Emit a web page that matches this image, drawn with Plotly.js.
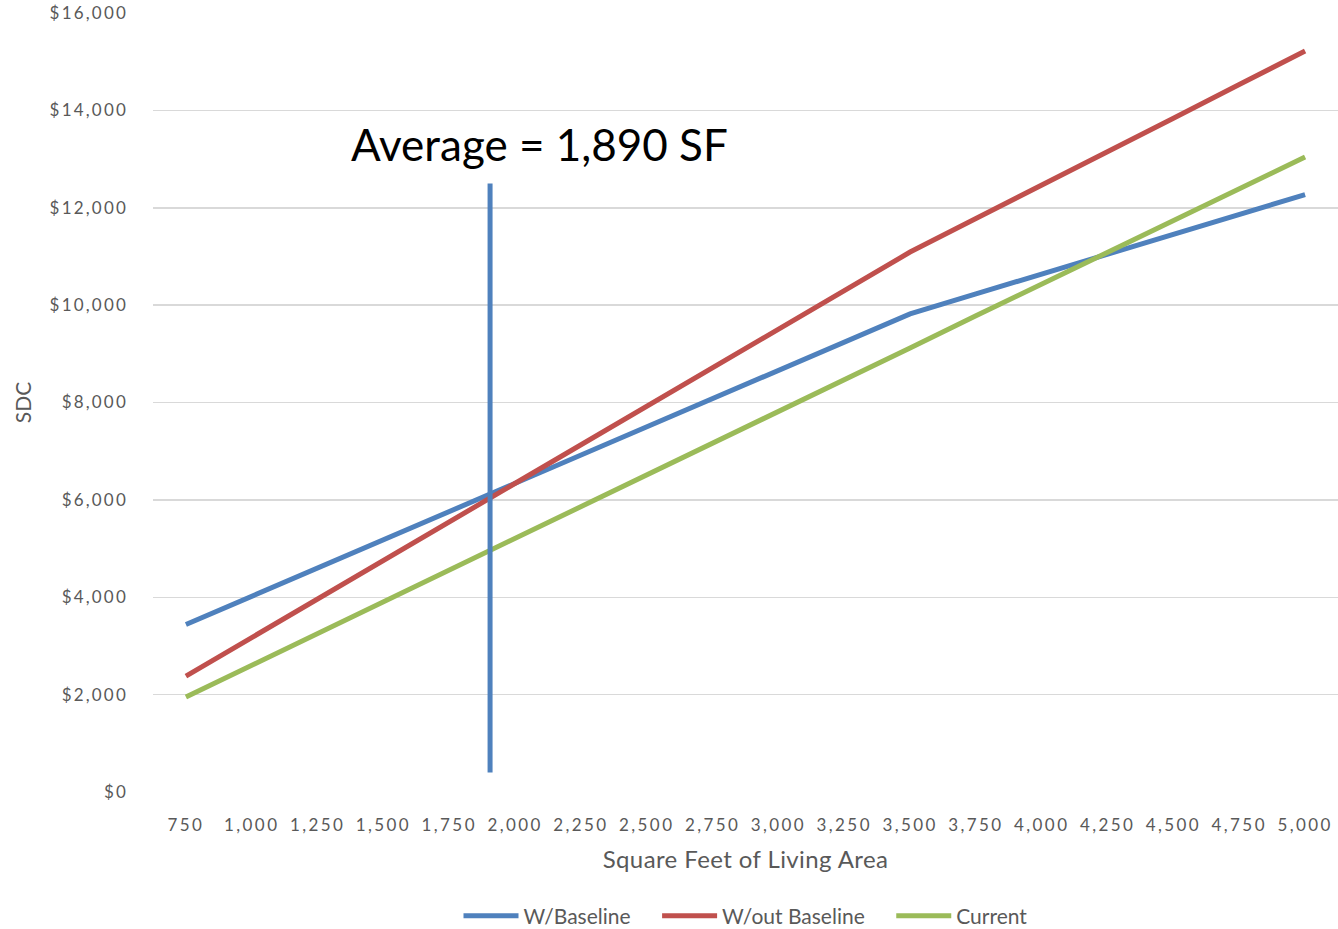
<!DOCTYPE html>
<html>
<head>
<meta charset="utf-8">
<script src="https://cdn.plot.ly/plotly-3.0.1.min.js"></script>
<style>
  html, body { margin: 0; padding: 0; background: #fff; }
  #chart { width: 1338px; height: 929px; }
  .xtick text { letter-spacing: 2.4px; }
  .ytick text { letter-spacing: 2.2px; }
  .g-xtitle text { letter-spacing: 0.4px; }
</style>
</head>
<body>
<div id="chart"></div>
<script>
// Square feet of living area (x categories)
const sqft = [750, 1000, 1250, 1500, 1750, 2000, 2250, 2500, 2750, 3000, 3250, 3500, 3750, 4000, 4250, 4500, 4750, 5000];
const sqftLabels = ["750", "1,000", "1,250", "1,500", "1,750", "2,000", "2,250", "2,500", "2,750", "3,000", "3,250", "3,500", "3,750", "4,000", "4,250", "4,500", "4,750", "5,000"];

// SDC values
const wBaseline = [3440, 4020, 4600, 5180, 5760, 6340, 6920, 7500, 8080, 8660, 9240, 9820, 10230, 10640, 11050, 11460, 11860, 12270];
const woutBaseline = [2380, 3170, 3960, 4750, 5540, 6340, 7130, 7920, 8710, 9500, 10300, 11090, 11780, 12460, 13150, 13840, 14530, 15220];
const current = [1950, 2600, 3250, 3900, 4560, 5210, 5860, 6510, 7170, 7820, 8470, 9120, 9780, 10430, 11080, 11740, 12390, 13040];

// Average marker line
const avgLabel = "Average = 1,890 SF";
const avgLineX = [1905, 1905];
const avgLineY = [400, 12500];

const yTicks = [0, 2000, 4000, 6000, 8000, 10000, 12000, 14000, 16000];
const yTickLabels = ["$0", "$2,000", "$4,000", "$6,000", "$8,000", "$10,000", "$12,000", "$14,000", "$16,000"];

const seriesNames = ["W/Baseline", "W/out Baseline", "Current"];

const FONT = "Lato, 'Open Sans', sans-serif";
const GREY = "#595959";
const PAD = "\u00A0\u00A0\u00A0\u00A0";

const traces = [
  { x: sqft, y: wBaseline, name: seriesNames[0] + PAD, type: "scatter", mode: "lines",
    line: { color: "#4F81BD", width: 5 } },
  { x: sqft, y: woutBaseline, name: seriesNames[1] + PAD, type: "scatter", mode: "lines",
    line: { color: "#C0504D", width: 5 } },
  { x: sqft, y: current, name: seriesNames[2], type: "scatter", mode: "lines",
    line: { color: "#9BBB59", width: 5 } },
  { x: avgLineX, y: avgLineY, type: "scatter", mode: "lines", showlegend: false,
    hoverinfo: "skip", line: { color: "#4F81BD", width: 5 } }
];

const layout = {
  width: 1338, height: 929,
  margin: { l: 153, r: 0, t: 13, b: 137, autoexpand: false },
  paper_bgcolor: "#fff", plot_bgcolor: "#fff",
  font: { family: FONT, color: GREY },
  showlegend: true,
  legend: {
    orientation: "h", x: 0.5, xanchor: "center",
    yref: "container", y: 0.014, yanchor: "middle",
    font: { family: FONT, size: 21, color: GREY },
    itemwidth: 55, traceorder: "normal"
  },
  xaxis: {
    type: "linear", range: [625, 5125], automargin: false,
    tickmode: "array", tickvals: sqft, ticktext: sqftLabels,
    showgrid: false, zeroline: false, showline: false, ticks: "",
    tickfont: { family: FONT, size: 17, color: GREY },
    ticklabelstandoff: 21,
    title: { text: "Square Feet of Living Area", font: { family: FONT, size: 24, color: GREY }, standoff: 17 }
  },
  yaxis: {
    range: [0, 16000], automargin: false,
    tickmode: "array", tickvals: yTicks, ticktext: yTickLabels,
    showgrid: true, gridcolor: "#D9D9D9", gridwidth: 1.5,
    zeroline: false, showline: false, ticks: "",
    tickfont: { family: FONT, size: 17, color: GREY },
    ticklabelstandoff: 24,
    title: { text: "SDC", font: { family: FONT, size: 21, color: GREY }, standoff: 12 }
  },
  annotations: [{
    text: avgLabel, xref: "x", yref: "y", x: 2092, y: 13300,
    xanchor: "center", yanchor: "middle", showarrow: false,
    font: { family: FONT, size: 44, color: "#000000" }
  }]
};

Plotly.newPlot("chart", traces, layout, { displayModeBar: false, staticPlot: true });
</script>
</body>
</html>
